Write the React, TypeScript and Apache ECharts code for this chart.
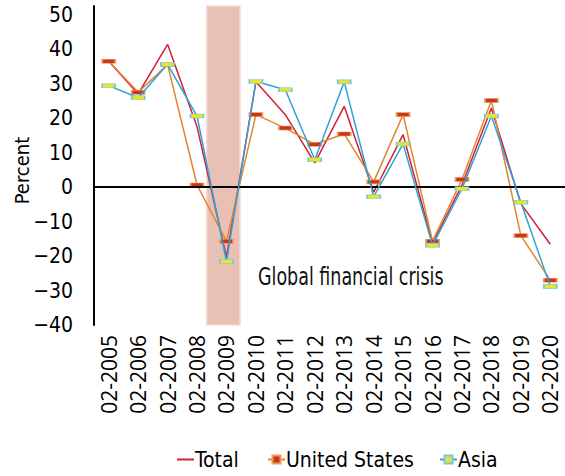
import React, { useEffect, useRef } from "react";
import * as echarts from "echarts";

const categories = [
  "02-2005", "02-2006", "02-2007", "02-2008", "02-2009", "02-2010", "02-2011", "02-2012",
  "02-2013", "02-2014", "02-2015", "02-2016", "02-2017", "02-2018", "02-2019", "02-2020",
];
const totalValues = [36.5, 27, 41.4, 17.5, -20.3, 30.5, 21, 7, 23.4, -1.5, 15.2, -16.3, 0.6, 22.9, -4.8, -16.6];
const usValues = [36.5, 27.5, 35.5, 0.6, -15.7, 21, 17.1, 12.4, 15.4, 1.5, 21, -15.7, 2.2, 25.1, -14.1, -27];
const asiaValues = [29.4, 25.9, 35.6, 20.6, -21.6, 30.6, 28.2, 7.9, 30.5, -2.8, 12.5, -16.9, -0.5, 20.6, -4.4, -28.8];
const crisisPeriod = [[4, -40, 52.5]];
const yTicks = { min: -40, max: 52.5, interval: 10, labelMax: 50 };
const annotation = "Global financial crisis";

const NARROW = "'Liberation Sans Narrow', 'DejaVu Sans Condensed', 'Roboto', sans-serif";
const OPEN = "'Open Sans', 'Noto Sans', sans-serif";

const legendText = { color: "#000", fontFamily: NARROW, fontSize: 21, padding: [0, 0, 0, -4] };

export default function App() {
  const ref = useRef<HTMLDivElement>(null);
  useEffect(() => {
    if (!ref.current) return;
    const chart = echarts.init(ref.current, null, { renderer: "svg" });
    chart.setOption({
      animation: false,
      backgroundColor: "#ffffff",
      grid: { left: 94, right: 0, top: 6, bottom: 151, containLabel: false, outerBoundsMode: "none" },
      xAxis: {
        type: "category",
        data: categories,
        axisLine: { show: false, onZero: false },
        axisTick: { show: false },
        axisLabel: {
          rotate: 90,
          margin: 10,
          color: "#000",
          fontFamily: OPEN,
          fontSize: 21,
          interval: 0,
        },
      },
      yAxis: {
        type: "value",
        min: yTicks.min,
        max: yTicks.max,
        interval: yTicks.interval,
        name: "Percent",
        nameLocation: "middle",
        nameGap: 62,
        nameMoveOverlap: false,
        nameRotate: 90,
        nameTextStyle: { color: "#000", fontFamily: NARROW, fontSize: 20, padding: [0, 10, 0, 0] },
        axisLine: { show: true, lineStyle: { color: "#000", width: 2 } },
        axisTick: { show: false },
        splitLine: { show: false },
        axisLabel: {
          margin: 21,
          color: "#000",
          fontFamily: NARROW,
          fontSize: 21,
          formatter: (v: number) => (v > yTicks.labelMax ? "" : String(v).replace("-", "\u2212")),
        },
      },
      legend: [
        {
          data: [{ name: "Total", icon: "rect" }], left: 172, top: 444, itemWidth: 17, itemHeight: 2, itemGap: 0,
          textStyle: legendText,
        },
        {
          data: ["United States"], left: 262, top: 444, itemWidth: 17, itemHeight: 10, itemGap: 0,
          textStyle: legendText,
        },
        {
          data: ["Asia"], left: 434, top: 444, itemWidth: 17, itemHeight: 10, itemGap: 0,
          textStyle: legendText,
        },
      ],
      graphic: [
        {
          type: "text",
          x: 258,
          y: 277,
          scaleX: 0.81,
          style: { text: annotation, fill: "#111", font: `24px ${NARROW}`, textVerticalAlign: "middle" },
        },
      ],
      series: [
        {
          type: "custom",
          name: "crisis",
          data: crisisPeriod,
          encode: { x: 0, y: [1, 2] },
          z: 0,
          silent: true,
          renderItem: (params: any, api: any) => {
            const idx = api.value(0);
            const lo = api.coord([idx, api.value(1)]);
            const hi = api.coord([idx, api.value(2)]);
            const next = api.coord([idx + 1, api.value(1)]);
            const band = next[0] - lo[0];
            return {
              type: "rect",
              shape: { x: lo[0] - band * 0.67, y: hi[1], width: band * 1.13, height: lo[1] - hi[1] },
              style: { fill: "#E8C0B4", stroke: "#F6DAD2", lineWidth: 1.5 },
            };
          },
        },
        {
          type: "line",
          name: "Total",
          data: totalValues,
          symbol: "none",
          lineStyle: { color: "#CE2231", width: 1.5 },
          itemStyle: { color: "#CE2231" },
          z: 3,
          markLine: {
            silent: true,
            symbol: "none",
            label: { show: false },
            lineStyle: { color: "#000", width: 2, type: "solid" },
            data: [{ yAxis: 0 }],
          },
        },
        {
          type: "line",
          name: "United States",
          data: usValues,
          symbol: "rect",
          symbolSize: [13, 4],
          lineStyle: { color: "#E3852F", width: 1.5 },
          itemStyle: { color: "#C9361E", borderColor: "#EE9A5A", borderWidth: 1 },
          z: 4,
        },
        {
          type: "line",
          name: "Asia",
          data: asiaValues,
          symbol: "rect",
          symbolSize: [13, 4],
          lineStyle: { color: "#2FA3D8", width: 1.5 },
          itemStyle: { color: "#E4E62A", borderColor: "#7CC4E6", borderWidth: 1 },
          z: 5,
        },
      ],
    });
    return () => chart.dispose();
  }, []);
  return <div ref={ref} style={{ position: "fixed", left: 0, top: 0, width: 565, height: 476 }} />;
}
